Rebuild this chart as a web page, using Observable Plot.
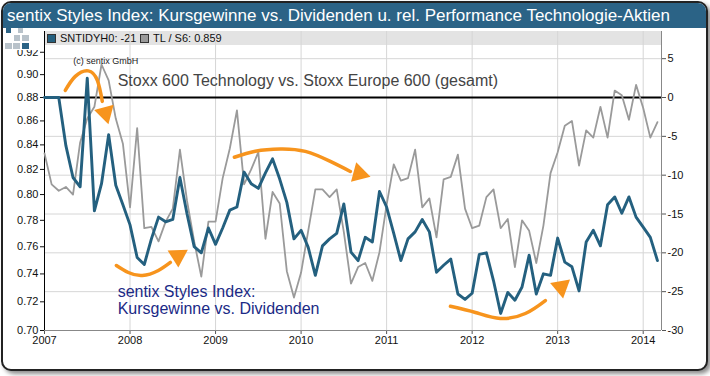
<!DOCTYPE html>
<html><head><meta charset="utf-8">
<script src="https://cdn.jsdelivr.net/npm/d3@7"></script>
<script src="https://cdn.jsdelivr.net/npm/@observablehq/plot@0.6"></script>
<style>
html,body{margin:0;padding:0;background:#fff;}
body{width:710px;height:376px;position:relative;overflow:hidden;font-family:"Liberation Sans",Arial,sans-serif;}
#frame{position:absolute;left:1px;top:1px;width:703px;height:366px;border:2px solid #222;border-radius:10px;box-shadow:3px 3px 4px rgba(0,0,0,.45);background:#fff;overflow:hidden;}
#titlebar{position:absolute;left:0;top:0;right:0;height:25px;background:#2b6386;color:#fff;font-size:17px;line-height:25px;padding-left:4px;white-space:nowrap;}
#band{position:absolute;left:44px;top:31px;width:618px;height:14px;background:#e3e3e3;}
.leg{position:absolute;top:31px;font-size:11px;line-height:14px;color:#111;white-space:nowrap;}
.sw{display:inline-block;width:7px;height:7px;border:1px solid #333;margin-right:4px;vertical-align:-1px;}
.lg{position:absolute;z-index:3;}
#cover{position:absolute;left:3px;top:28px;width:39px;height:22px;background:#fff;z-index:2;}
#chart{position:absolute;left:0;top:0;z-index:1;}
</style>
</head><body>
<div id="frame"><div id="titlebar">sentix Styles Index: Kursgewinne vs. Dividenden u. rel. Performance Technologie-Aktien</div></div>
<div id="band"></div>
<div class="leg" style="left:47px"><span class="sw" style="background:#24607f"></span>SNTIDYH0: -21</div>
<div class="leg" style="left:140px"><span class="sw" style="background:#9a9a9a"></span>TL / S6: 0.859</div>
<div id="chart"></div>
<div id="cover"></div>
<div class="lg" style="left:6px;top:28px;width:5px;height:5px;background:#2b6386"></div>
<div class="lg" style="left:18px;top:28px;width:5px;height:5px;background:#b8c2ca"></div>
<div class="lg" style="left:14px;top:35px;width:6px;height:6px;background:#b8c2ca"></div>
<div class="lg" style="left:22px;top:35px;width:7px;height:6px;background:#b8c2ca"></div>
<div class="lg" style="left:5px;top:43px;width:7px;height:6px;background:#b8c2ca"></div>
<div class="lg" style="left:13px;top:43px;width:7px;height:6px;background:#b8c2ca"></div>
<div class="lg" style="left:22px;top:43px;width:7px;height:6px;background:#2b6386"></div>
<script>
// monthly data, Jan 2007 .. Mar 2014
const startYear = 2007;
const sntidyh0 = [
  0, 0, 0, -6.2, -10.3, -11.5, 2.5, -14.6, -11.1, -4.8, -11.3, -13.8,
  -16.4, -20.6, -21.5, -18.2, -15.4, -16.0, -15.7, -10.3, -15.0, -19.2, -20.0, -16.8,
  -18.9, -16.8, -14.5, -14.1, -9.6, -11.1, -11.7, -9.7, -7.9, -10.5, -13.5, -18.2,
  -17.1, -19.3, -22.9, -19.1, -18.2, -17.5, -13.7, -19.9, -21.0, -18.0, -18.6, -12.1,
  -14.1, -17.5, -21.0, -18.2, -17.3, -15.7, -17.3, -22.5, -21.6, -20.8, -25.3, -26.0,
  -25.2, -20.2, -20.0, -23.6, -27.8, -25.1, -26.1, -24.4, -20.3, -25.3, -22.7, -22.9,
  -18.1, -21.2, -21.8, -24.9, -18.6, -17.1, -19.1, -13.8, -12.8, -14.9, -12.8, -15.4,
  -16.7, -18.0, -21.0
];
const tlS6 = [
  0.833, 0.808, 0.803, 0.806, 0.800, 0.842, 0.862, 0.872, 0.909, 0.895, 0.862, 0.841,
  0.790, 0.854, 0.774, 0.775, 0.764, 0.779, 0.789, 0.836, 0.795, 0.764, 0.738, 0.779,
  0.779, 0.813, 0.837, 0.869, 0.808, 0.820, 0.834, 0.766, 0.802, 0.793, 0.742, 0.723,
  0.741, 0.772, 0.804, 0.804, 0.798, 0.804, 0.771, 0.733, 0.745, 0.748, 0.735, 0.756,
  0.792, 0.824, 0.811, 0.813, 0.836, 0.790, 0.797, 0.767, 0.812, 0.814, 0.832, 0.789,
  0.774, 0.776, 0.798, 0.804, 0.774, 0.781, 0.745, 0.780, 0.772, 0.748, 0.776, 0.817,
  0.834, 0.856, 0.860, 0.823, 0.852, 0.846, 0.872, 0.846, 0.886, 0.882, 0.861, 0.891,
  0.871, 0.846, 0.859
];
const yearTicks = [2007, 2008, 2009, 2010, 2011, 2012, 2013, 2014];
const leftTicks = [0.70, 0.72, 0.74, 0.76, 0.78, 0.80, 0.82, 0.84, 0.86, 0.88, 0.90, 0.92];
const rightTicks = [-30, -25, -20, -15, -10, -5, 0, 5];

// annotations (text and orange arrows), positioned in data units
const notes = [
  {text: "(c) sentix GmbH", x: 2007.337, y: 4.65, size: 9, color: "#222"},
  {text: "Stoxx 600 Technology vs. Stoxx Europe 600 (gesamt)", x: 2007.855, y: 2.2, size: 16, color: "#444"},
  {text: "sentix Styles Index:", x: 2007.855, y: -25.04, size: 16, color: "#1b2a86"},
  {text: "Kursgewinne vs. Dividenden", x: 2007.855, y: -27.2, size: 16, color: "#1b2a86"}
];
const arrowPaths = [
  [[2007.243, 0.91], [2007.360, 2.72], [2007.512, 3.43], [2007.618, 2.20], [2007.676, -0.5]],
  [[2007.840, -21.63], [2007.980, -22.53], [2008.144, -22.92], [2008.331, -22.27], [2008.472, -21.24]],
  [[2009.220, -7.69], [2009.465, -6.91], [2009.758, -6.62], [2010.050, -6.94], [2010.342, -8.23], [2010.576, -9.52]],
  [[2011.746, -26.88], [2012.038, -27.68], [2012.330, -28.46], [2012.622, -27.81], [2012.856, -26.14]]
];
const arrowHeads = [
  {x: 2007.712, y: -2.0, rot: 165},
  {x: 2008.560, y: -20.4, rot: 58},
  {x: 2010.680, y: -9.8, rot: 105},
  {x: 2013.040, y: -24.4, rot: 50}
];

const data = sntidyh0.map((v, i) => ({t: startYear + i / 12, s: v, tl: tlS6[i]}));
const arrowData = arrowPaths.flatMap((p, k) => p.map(([x, y]) => ({id: k, x, y})));
const toY = d3.scaleLog().domain([0.70, 0.88]).range([-30, 0]);
const xMax = 2014.214;
const orange = "#f7941d";

const chart = Plot.plot({
  width: 710, height: 376,
  marginLeft: 44, marginRight: 49, marginTop: 31, marginBottom: 46,
  style: {background: "transparent", fontFamily: "Liberation Sans, Arial, sans-serif", fontSize: "11px", color: "#111"},
  x: {domain: [2007, xMax]},
  y: {domain: [-30, 8.5]},
  marks: [
    Plot.gridX(yearTicks.slice(1), {stroke: "#d6d6d6", strokeOpacity: 1}),
    Plot.gridY(rightTicks.filter(d => d !== 0 && d !== -30), {stroke: "#d6d6d6", strokeOpacity: 1}),
    Plot.axisX(yearTicks, {tickFormat: d => String(d), tickSize: 4, tickPadding: 2, label: null, stroke: "#555"}),
    Plot.axisY(leftTicks.map(toY), {anchor: "left", tickFormat: d => toY.invert(d).toFixed(2), tickSize: 4, tickPadding: 2, label: null}),
    Plot.axisY(rightTicks, {anchor: "right", tickFormat: d => String(d), tickSize: 4, tickPadding: 2, label: null, stroke: "#555"}),
    Plot.ruleY([-30], {stroke: "#888"}),
    Plot.ruleX([xMax], {stroke: "#888"}),
    Plot.ruleX([2007], {stroke: "#000"}),
    Plot.ruleY([0], {stroke: "#000", strokeWidth: 2}),
    Plot.line(data, {x: "t", y: d => toY(d.tl), stroke: "#9a9a9a", strokeWidth: 1.8}),
    Plot.line(data, {x: "t", y: "s", stroke: "#24607f", strokeWidth: 2.9}),
    Plot.line(arrowData, {x: "x", y: "y", z: "id", curve: "natural", stroke: orange, strokeWidth: 3.5}),
    Plot.dot(arrowHeads, {x: "x", y: "y", symbol: "triangle", r: 7.5, fill: orange, rotate: "rot"}),
    Plot.text(notes, {x: "x", y: "y", text: "text", fontSize: d => d.size, fill: d => d.color, textAnchor: "start", lineAnchor: "middle"})
  ]
});
document.getElementById("chart").appendChild(chart);
</script>
</body></html>
